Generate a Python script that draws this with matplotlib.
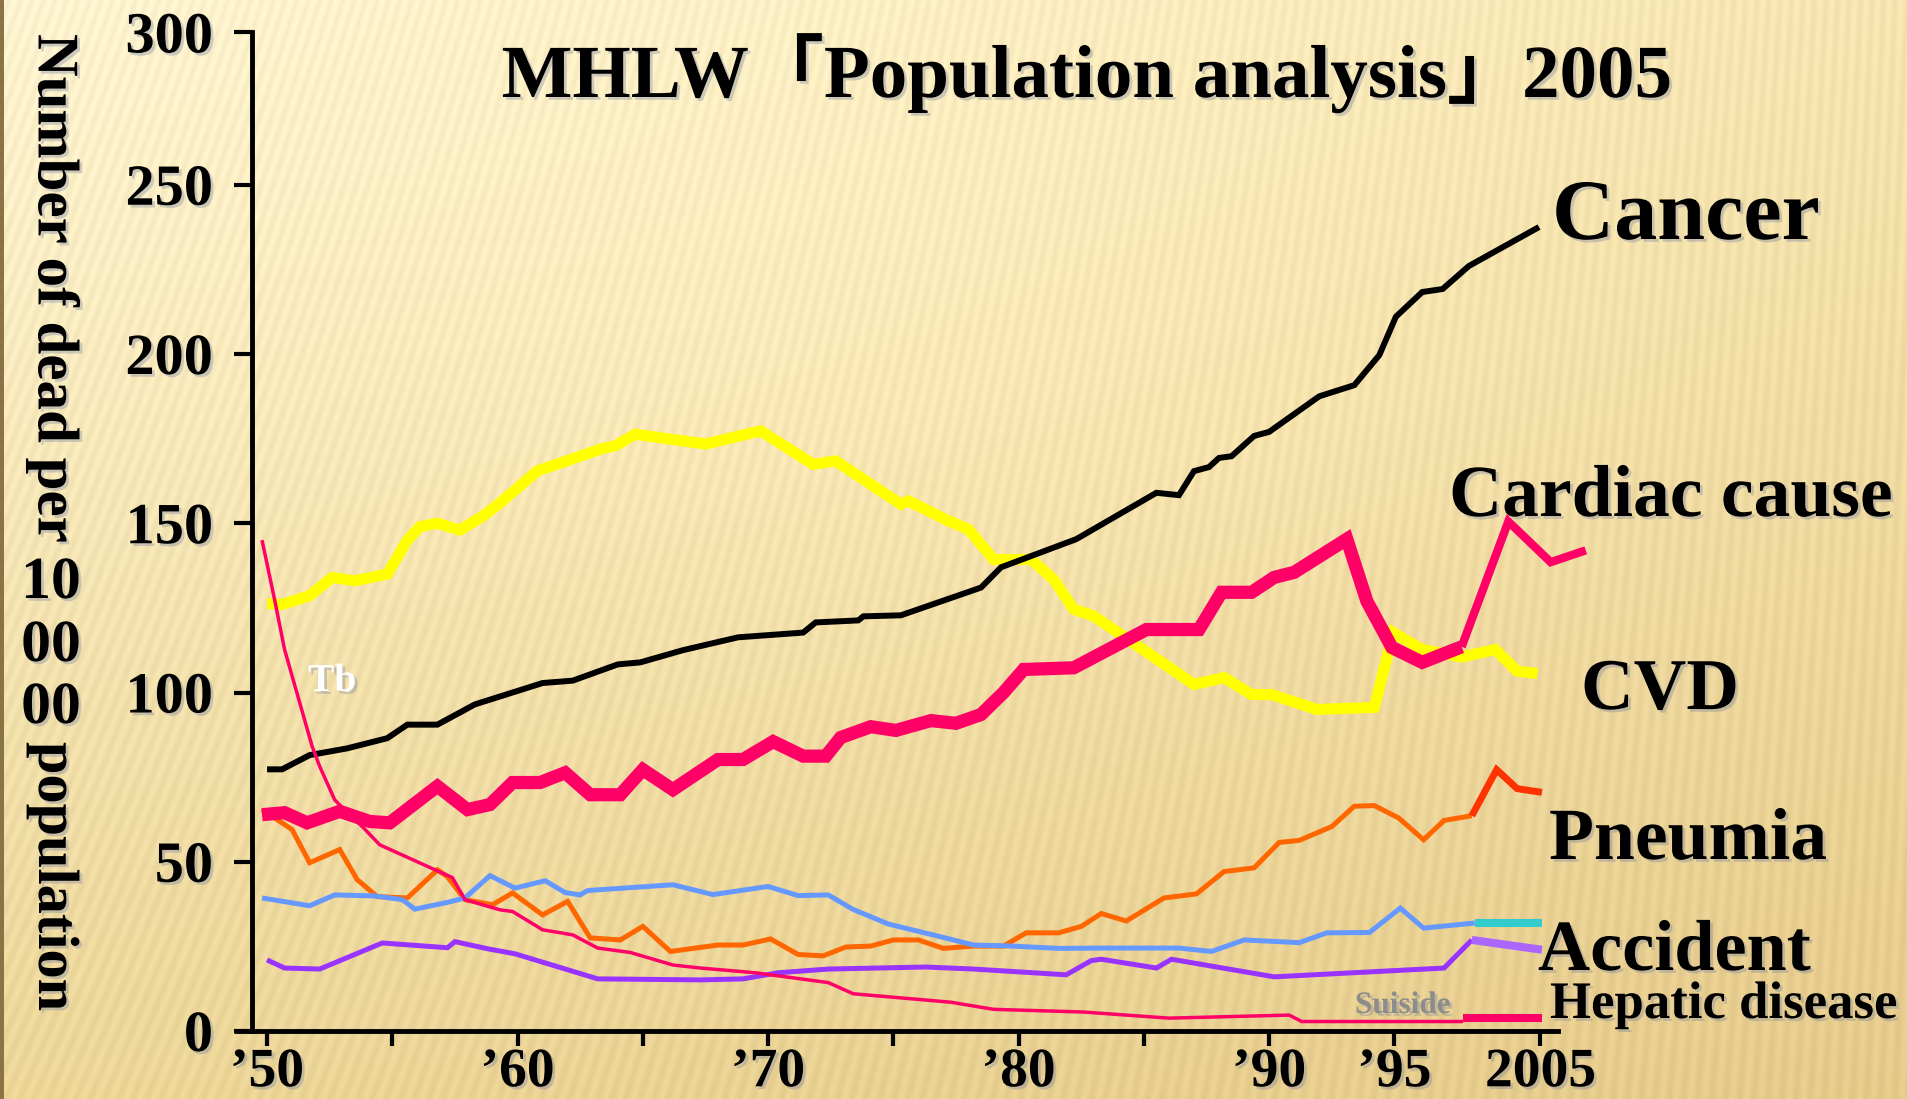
import numpy as np
import matplotlib
matplotlib.use("Agg")
import matplotlib.pyplot as plt
import matplotlib.patheffects as pe

# ---- data (year, rate per 100 000) ----
cancer_years = [1950.0, 1950.6, 1951.7, 1953.2, 1954.8, 1955.6, 1956.8, 1958.3, 1959.8, 1961.0,
                1962.2, 1964.0, 1964.9, 1966.6, 1968.8, 1971.4, 1971.9, 1973.6, 1973.8, 1975.3,
                1976.9, 1978.5, 1979.3, 1982.3, 1985.5, 1986.4, 1987.0, 1987.6, 1988.0, 1988.5,
                1989.4, 1990.0, 1992.0, 1993.4, 1994.4, 1995.1, 1996.9, 1998.3, 2000.1, 2004.9]
cancer_vals = [77.3, 77.3, 81.5, 83.5, 86.5, 90.5, 90.5, 96.5, 100.0, 102.8,
               103.5, 108.3, 108.9, 112.5, 116.3, 117.7, 120.7, 121.3, 122.5, 122.8,
               126.9, 131.0, 137.0, 145.3, 159.0, 158.3, 165.4, 166.6, 169.3, 169.8,
               175.8, 177.0, 187.5, 190.8, 199.7, 211.0, 218.3, 219.2, 226.0, 237.5]

cvd_years = [1950.0, 1950.6, 1951.7, 1952.6, 1953.5, 1954.8, 1955.6, 1956.1, 1956.8, 1957.7,
             1958.6, 1959.3, 1960.8, 1961.8, 1963.3, 1963.9, 1964.7, 1967.5, 1969.7, 1971.8,
             1972.7, 1975.3, 1975.6, 1977.2, 1978.0, 1979.0, 1980.5, 1981.4, 1982.2, 1983.0,
             1987.0, 1988.2, 1989.3, 1990.1, 1991.9, 1994.2, 1994.95, 1996.9, 1999.6, 2001.9,
             2003.4, 2004.8]
cvd_vals = [126.3, 126.0, 128.6, 134.0, 133.0, 135.0, 145.0, 149.0, 150.0, 148.0,
            152.0, 156.0, 165.5, 168.0, 171.9, 172.9, 176.3, 173.4, 177.3, 167.4,
            168.4, 155.6, 156.6, 150.7, 148.2, 139.3, 139.3, 133.4, 124.6, 122.6,
            102.4, 104.4, 99.4, 99.4, 95.0, 95.6, 117.7, 112.7, 110.5, 112.7,
            106.3, 105.6]

cardiac_years = [1949.8, 1950.7, 1951.6, 1952.9, 1954.1, 1954.9, 1956.8, 1958.0, 1958.9, 1959.8,
                 1960.9, 1961.9, 1962.9, 1964.1, 1965.0, 1966.2, 1968.0, 1969.0, 1970.2, 1971.4,
                 1972.3, 1972.9, 1974.1, 1975.1, 1976.5, 1977.5, 1978.5, 1979.4, 1980.2, 1982.2,
                 1985.1, 1987.2, 1988.1, 1989.3, 1990.2, 1991.0, 1993.1, 1993.9, 1994.9, 1996.9,
                 1999.6]
cardiac_vals = [63.9, 64.5, 61.5, 64.9, 61.9, 61.5, 72.3, 65.4, 66.9, 73.4,
                73.4, 76.3, 69.8, 69.8, 77.2, 71.3, 80.2, 80.2, 85.5, 81.2,
                81.2, 86.7, 89.9, 88.8, 91.7, 90.9, 93.5, 100.0, 106.8, 107.3,
                118.6, 118.6, 129.6, 129.6, 134.0, 135.5, 145.3, 127.0, 113.3, 108.9,
                113.5]
cardiac_end_years = [1999.6, 2002.8, 2005.7, 2008.1]
cardiac_end_vals = [113.5, 150.5, 138.5, 142.0]

pneumonia_years = [1949.8, 1951.0, 1951.7, 1952.9, 1953.6, 1954.4, 1955.6, 1956.8, 1957.2, 1957.9,
                   1959.0, 1959.8, 1961.0, 1962.0, 1962.9, 1964.1, 1965.0, 1966.1, 1968.0, 1969.0,
                   1970.1, 1971.2, 1972.2, 1973.1, 1974.1, 1975.0, 1976.0, 1977.0, 1978.2, 1979.4,
                   1980.3, 1981.6, 1982.5, 1983.3, 1984.3, 1985.8, 1987.1, 1988.2, 1989.4, 1990.4,
                   1991.2, 1992.5, 1993.4, 1994.2, 1995.3, 1997.0, 1998.4, 2000.3]
pneumonia_vals = [65.4, 59.5, 49.7, 53.6, 44.7, 39.7, 39.3, 47.6, 45.6, 38.8,
                  37.3, 40.8, 34.3, 38.3, 27.5, 26.9, 30.9, 23.5, 25.4, 25.4,
                  27.2, 22.6, 22.2, 24.8, 25.1, 26.9, 26.9, 24.4, 25.1, 25.1,
                  29.0, 29.0, 30.9, 34.7, 32.5, 39.3, 40.5, 47.1, 48.2, 55.7,
                  56.3, 60.4, 66.4, 66.6, 62.9, 56.5, 62.2, 63.6]
pneumonia_end_years = [2000.3, 2002.0, 2003.4, 2005.1]
pneumonia_end_vals = [63.6, 77.2, 71.6, 70.5]

accident_years = [1949.8, 1951.7, 1952.7, 1954.3, 1955.4, 1955.9, 1957.2, 1957.9, 1958.9, 1959.9,
                  1961.1, 1961.9, 1962.5, 1962.8, 1966.2, 1967.8, 1970.0, 1971.2, 1972.4, 1973.4,
                  1974.8, 1976.8, 1978.2, 1979.7, 1981.6, 1983.3, 1986.4, 1987.7, 1989.0, 1991.2,
                  1992.3, 1994.0, 1995.4, 1997.0, 2000.5]
accident_vals = [39.3, 37.0, 40.2, 39.9, 38.8, 36.0, 38.0, 39.3, 45.9, 42.2,
                 44.4, 40.9, 40.2, 41.5, 43.2, 40.3, 42.7, 40.0, 40.2, 35.9,
                 31.6, 28.0, 25.4, 25.1, 24.4, 24.5, 24.5, 23.5, 26.9, 26.1,
                 29.0, 29.1, 36.3, 30.4, 31.9]
accident_end_years = [2000.5, 2005.1]
accident_end_vals = [31.9, 31.9]

hepatic_years = [1950.0, 1950.7, 1952.1, 1954.6, 1957.2, 1957.5, 1958.8, 1959.9, 1963.2, 1967.3,
                 1969.0, 1970.4, 1972.4, 1976.3, 1978.2, 1981.9, 1982.9, 1983.3, 1985.5, 1986.1,
                 1990.2, 1998.4, 2000.3]
hepatic_vals = [21.0, 18.6, 18.3, 26.0, 24.6, 26.4, 24.3, 22.8, 15.4, 15.1,
                15.4, 17.2, 18.3, 18.9, 18.3, 16.6, 20.8, 21.2, 18.6, 21.2,
                16.0, 18.6, 26.9]
hepatic_end_years = [2000.3, 2005.1]
hepatic_end_vals = [26.9, 24.0]

tb_years = [1949.8, 1950.3, 1950.7, 1951.8, 1952.1, 1952.7, 1953.2, 1953.8, 1954.5, 1957.4,
            1957.9, 1959.3, 1959.8, 1961.0, 1962.2, 1963.2, 1964.5, 1966.2, 1967.3, 1969.5,
            1972.4, 1973.4, 1977.3, 1979.0, 1982.6, 1986.0, 1990.8, 1991.3, 1999.7]
tb_vals = [145.0, 127.5, 112.7, 84.1, 78.2, 68.3, 64.5, 60.4, 55.0, 45.3,
           38.8, 35.8, 35.3, 29.9, 28.4, 24.5, 23.2, 19.5, 18.6, 17.2,
           14.3, 11.0, 8.5, 6.4, 5.6, 3.8, 4.7, 2.8, 2.8]
tb_end_years = [1999.7, 2005.1]
tb_end_vals = [3.8, 3.8]

x_ticks = [1950, 1955, 1960, 1965, 1970, 1975, 1980, 1985, 1990, 1995, 2005]
x_labels = ["\u201950", "", "\u201960", "", "\u201970", "", "\u201980", "", "\u201990", "\u201995", "2005"]
# the drawn axis stops a little short of 300, where its top tick carries the "300" label
y_top = 295
y_ticks = [0, 50, 100, 150, 200, 250, y_top]
y_labels = ["0", "50", "100", "150", "200", "250", "300"]

W, H = 1907, 1099
fig = plt.figure(figsize=(W / 100, H / 100), dpi=100)

# background: warm gradient with fine slanted stripes
yy, xx = np.mgrid[0:H, 0:W].astype(float)
u, v = xx / W, yy / H
tl, tr = np.array([253, 243, 208]), np.array([246, 229, 176])
bl, br = np.array([236, 214, 152]), np.array([229, 202, 138])
base = ((1 - u) * (1 - v))[..., None] * tl + (u * (1 - v))[..., None] * tr \
    + ((1 - u) * v)[..., None] * bl + (u * v)[..., None] * br
glow = 6 * np.exp(-((u - 0.45) ** 2 / 0.15 + (v - 0.3) ** 2 / 0.1))
slant = 0.32 * (1 - u) + 0.04
stripe = 5 * np.sin(2 * np.pi * (xx + slant * yy) / 11.5)
img = base + (glow + stripe)[..., None]
img[:, :4] = [140, 115, 70]
bg = fig.add_axes([0, 0, 1, 1])
bg.imshow(np.clip(img, 0, 255).astype(np.uint8), aspect="auto")
bg.axis("off")

ax = fig.add_axes([252 / W, 68 / H, 1306 / W, y_top * 3.385 / H])
ax.patch.set_alpha(0)

R = 0.583  # the chart squeezes the last decade


def fwd(x):
    x = np.asarray(x, dtype=float)
    return np.where(x <= 1995, x, 1995 + (x - 1995) * R)


def inv(x):
    x = np.asarray(x, dtype=float)
    return np.where(x <= 1995, x, 1995 + (x - 1995) / R)


ax.set_xscale("function", functions=(fwd, inv))

kw = dict(solid_joinstyle="miter", solid_capstyle="butt", clip_on=False)
ax.plot(cvd_years, cvd_vals, color="#FFFF00", lw=8, zorder=3, **kw)
ax.plot(cancer_years, cancer_vals, color="black", lw=4.3, zorder=4, **kw)
ax.plot(pneumonia_years, pneumonia_vals, color="#FF6600", lw=3.6, zorder=3, **kw)
ax.plot(pneumonia_end_years, pneumonia_end_vals, color="#FF3300", lw=5, zorder=3, **kw)
ax.plot(accident_years, accident_vals, color="#6699FF", lw=3.6, zorder=3, **kw)
ax.plot(accident_end_years, accident_end_vals, color="#33CCCC", lw=5.8, zorder=3, **kw)
ax.plot(hepatic_years, hepatic_vals, color="#9933FF", lw=3.6, zorder=3, **kw)
ax.plot(hepatic_end_years, hepatic_end_vals, color="#AA66FF", lw=5.8, zorder=3, **kw)
ax.plot(tb_years, tb_vals, color="#FF0066", lw=2.5, zorder=4, **kw)
ax.plot(tb_end_years, tb_end_vals, color="#FF0066", lw=5.8, zorder=4, **kw)
ax.plot(cardiac_years, cardiac_vals, color="#FF0066", lw=9.5, zorder=5, **kw)
ax.plot(cardiac_end_years, cardiac_end_vals, color="#FF0066", lw=6, zorder=5, **kw)

ax.set_xlim(1949.4, 2006.2)
ax.set_ylim(0, y_top)

for side in ["top", "right"]:
    ax.spines[side].set_visible(False)
for side in ["left", "bottom"]:
    ax.spines[side].set_linewidth(3.5)
ax.plot([-18 / 1306, 0], [0, 0], transform=ax.transAxes, color="black", lw=3.5,
        clip_on=False, solid_capstyle="butt")

shadow = [pe.withSimplePatchShadow(offset=(2, -2), shadow_rgbFace=(0.45, 0.5, 0.65), alpha=0.35)]
serif = dict(family=["Liberation Serif", "Noto Sans CJK JP"], weight="bold")

ax.set_xticks(x_ticks, x_labels, fontsize=40, **serif)
ax.set_yticks(y_ticks, y_labels, fontsize=42, **serif)
ax.xaxis.set_minor_locator(plt.NullLocator())
ax.tick_params(axis="both", direction="out", width=3, colors="black")
ax.tick_params(axis="y", length=13, pad=15)
ax.tick_params(axis="x", length=11, pad=0)
for lbl in ax.get_xticklabels() + ax.get_yticklabels():
    lbl.set_path_effects(shadow)


def ftext(x, y, s, size, **extra):
    t = fig.text(x / W, 1 - y / H, s, fontsize=size, path_effects=shadow, **serif, **extra)
    return t


ftext(1087, 97, "MHLW\u300cPopulation analysis\u300d2005", 54, ha="center", va="baseline")
ftext(1552, 239, "Cancer", 62, ha="left", va="baseline")
ftext(1449, 516, "Cardiac cause", 53, ha="left", va="baseline")
ftext(1581, 709, "CVD", 52.5, ha="left", va="baseline")
ftext(1549, 859, "Pneumia", 53, ha="left", va="baseline")
ftext(1538, 970, "Accident", 52, ha="left", va="baseline")
ftext(1550, 1018, "Hepatic disease", 38, ha="left", va="baseline")
ftext(1355, 1013, "Suiside", 22.5, ha="left", va="baseline", color="#8C8C8C")
ftext(308, 691, "Tb", 28.5, ha="left", va="baseline", color="white")

# vertical axis title, written top to bottom with upright digits
ftext(53, 34, "Number of dead per", 42.5, rotation=270, ha="center", va="top")
for yc, s in zip([584, 647, 709], ["10", "00", "00"]):
    ftext(51, yc, s, 43, ha="center", va="center")
ftext(53, 742, "population", 42, rotation=270, ha="center", va="top")

fig.savefig("out.png", dpi=100)
